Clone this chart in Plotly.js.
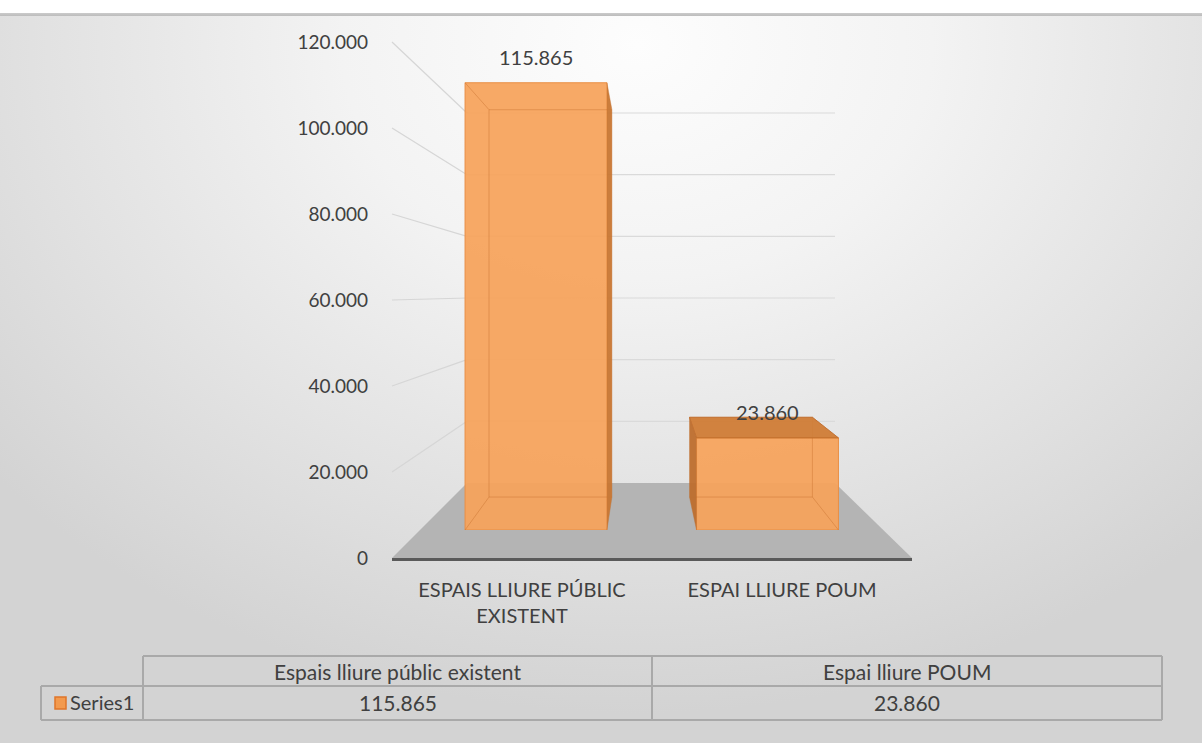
<!DOCTYPE html>
<html><head><meta charset="utf-8">
<script src="https://cdn.plot.ly/plotly-3.0.1.min.js"></script>
<style>
html,body{margin:0;padding:0;background:#fff;}
#wrap{position:relative;width:1202px;height:743px;overflow:hidden;
background:
 linear-gradient(to bottom,#ffffff 0px,#ffffff 13px,#cbcbcb 13px,#bcbcbc 16px,rgba(0,0,0,0) 16px),
 radial-gradient(ellipse 70% 90% at 53% 6%, #fdfdfd 0%, #f3f3f3 35%, #e2e2e2 70%, #d3d3d3 100%);}
#chart{width:1202px;height:743px;}
</style></head>
<body><div id="wrap"><div id="chart"></div></div>
<script>
// ---------- data ----------
const categories = ['ESPAIS LLIURE PÚBLIC<br>EXISTENT', 'ESPAI LLIURE POUM'];
const tableHeaders = ['Espais lliure públic existent', 'Espai lliure POUM'];
const seriesName = 'Series1';
const values = [115865, 23860];
const tickValues = [0, 20000, 40000, 60000, 80000, 100000, 120000];
const yMax = 120000;

// ---------- geometry / style ----------
const W = 1202, H = 743;
const px = p => p / W, py = p => 1 - p / H;
const fmt = v => String(v).replace(/\B(?=(\d{3})+(?!\d))/g, '.');
const FONT = 'Lato, "Open Sans", sans-serif';
const TXT = '#404040';

const labelAxis = {bottom: 558, top: 42, x: 392};
const backWall = {bottom: 483, top: 113, left: 467, right: 835};
const floorFront = {left: 392, right: 912, y: 558};
const barPlane = {bottom: 530, top: 66.8, left: 420.25, right: 883.25};
const barWidth = 0.613;
const vp = {x: 644, y: 284}, depthScale = 0.866;

const unitPx = (barPlane.right - barPlane.left) / 2;
const vpX = (vp.x - barPlane.left) / unitPx - 0.5;
const vpV = (barPlane.bottom - vp.y) / (barPlane.bottom - barPlane.top) * yMax;
const back = (x, y) => [vpX + depthScale * (x - vpX), vpV + depthScale * (y - vpV)];

const shapes = [];
// floor
shapes.push({type: 'path', xref: 'paper', yref: 'paper', layer: 'below',
  path: `M${px(floorFront.left)},${py(floorFront.y)} L${px(floorFront.right)},${py(floorFront.y)} L${px(backWall.right)},${py(backWall.bottom)} L${px(backWall.left)},${py(backWall.bottom)} Z`,
  fillcolor: '#b4b4b4', line: {width: 0}});
// back wall gridlines and side wall lines (from tick values)
const labY = v => py(labelAxis.bottom) + v / yMax * (py(labelAxis.top) - py(labelAxis.bottom));
const wallY = v => py(backWall.bottom) + v / yMax * (py(backWall.top) - py(backWall.bottom));
tickValues.forEach(v => {
  if (v === 0) return;
  shapes.push({type: 'line', xref: 'paper', yref: 'paper', layer: 'below',
    x0: px(backWall.left), x1: px(backWall.right), y0: wallY(v), y1: wallY(v),
    line: {color: '#dadada', width: 1.2}});
  shapes.push({type: 'line', xref: 'paper', yref: 'paper', layer: 'below',
    x0: px(labelAxis.x), x1: px(backWall.left), y0: labY(v), y1: wallY(v),
    line: {color: '#d6d6d6', width: 1.2}});
});

// 3D faces of the bars, derived from the values
values.forEach((v, i) => {
  const hw = barWidth / 2, xl = i - hw, xr = i + hw;
  const bTL = back(xl, v), bTR = back(xr, v), bBL = back(xl, 0), bBR = back(xr, 0);
  const edge = {color: 'rgba(190,100,35,0.35)', width: 1};
  shapes.push({type: 'path', xref: 'x', yref: 'y2', layer: 'above',
    path: `M${bBL} L${bTL} L${bTR} L${bBR} Z`, line: edge});
  shapes.push({type: 'path', xref: 'x', yref: 'y2', layer: 'above',
    path: `M${xl},${v} L${bTL} M${xr},${v} L${bTR} M${xl},0 L${bBL} M${xr},0 L${bBR}`, line: edge});
  if (v < vpV) {
    shapes.push({type: 'path', xref: 'x', yref: 'y2', layer: 'above',
      path: `M${xl},${v} L${bTL} L${bTR} L${xr},${v} Z`,
      fillcolor: 'rgba(208,124,54,0.95)', line: {color: 'rgba(190,105,40,0.8)', width: 1}});
  }
  if (xr < vpX) {
    shapes.push({type: 'path', xref: 'x', yref: 'y2', layer: 'above',
      path: `M${xr},${v} L${bTR} L${bBR} L${xr},0 Z`,
      fillcolor: 'rgba(200,118,50,0.95)', line: {width: 0}});
  } else if (xl > vpX) {
    shapes.push({type: 'path', xref: 'x', yref: 'y2', layer: 'above',
      path: `M${xl},${v} L${bTL} L${bBL} L${xl},0 Z`,
      fillcolor: 'rgba(190,110,45,0.95)', line: {width: 0}});
  }
});

// data table
const tbl = {top: 656, mid: 686, bot: 720, cols: [41, 143, 652, 1162]};
const tline = (x0, y0, x1, y1) => shapes.push({type: 'line', xref: 'paper', yref: 'paper',
  x0: px(x0), y0: py(y0), x1: px(x1), y1: py(y1), line: {color: '#a9a9a9', width: 2}});
tline(tbl.cols[1], tbl.top, tbl.cols[3], tbl.top);
tline(tbl.cols[0], tbl.mid, tbl.cols[3], tbl.mid);
tline(tbl.cols[0], tbl.bot, tbl.cols[3], tbl.bot);
tline(tbl.cols[0], tbl.mid, tbl.cols[0], tbl.bot);
tbl.cols.slice(1).forEach(c => tline(c, tbl.top, c, tbl.bot));
shapes.push({type: 'rect', xref: 'paper', yref: 'paper', x0: px(55), x1: px(66), y0: py(709), y1: py(697),
  fillcolor: '#f39a4e', line: {color: '#e0762a', width: 1.5}});

const annotations = [];
const ann = (x, y, text, size, extra) => Object.assign({xref: 'paper', yref: 'paper', x: x, y: y,
  xanchor: 'center', yanchor: 'middle', text: text, showarrow: false,
  font: {family: FONT, size: size, color: TXT}}, extra || {});
values.forEach((v, i) => annotations.push({x: i, y: v, xref: 'x', yref: 'y2', yshift: 26,
  xanchor: 'center', yanchor: 'middle',
  text: fmt(v), showarrow: false, font: {family: FONT, size: 20, color: TXT}}));
tableHeaders.forEach((t, i) => annotations.push(ann(
  px((tbl.cols[i + 1] + tbl.cols[i + 2]) / 2), py(671), t, 21)));
values.forEach((v, i) => annotations.push(ann(
  px((tbl.cols[i + 1] + tbl.cols[i + 2]) / 2), py(702), fmt(v), 21)));
annotations.push(ann(px(68), py(702), seriesName, 20, {xanchor: 'left'}));

const traces = [
  {type: 'bar', x: values.map((v, i) => i), y: values, xaxis: 'x', yaxis: 'y2', width: barWidth,
   marker: {color: 'rgba(246,162,90,0.93)', line: {color: '#e98f45', width: 1}},
   hoverinfo: 'skip', showlegend: false},
  {type: 'scatter', mode: 'markers', x: categories, y: categories.map(() => null),
   xaxis: 'x2', yaxis: 'y', hoverinfo: 'skip', showlegend: false}
];

const layout = {
  width: W, height: H, margin: {l: 0, r: 0, t: 0, b: 0},
  paper_bgcolor: 'rgba(0,0,0,0)', plot_bgcolor: 'rgba(0,0,0,0)',
  separators: ',.', hovermode: false, showlegend: false,
  font: {family: FONT, color: TXT},
  xaxis: {domain: [px(barPlane.left), px(barPlane.right)], range: [-0.5, 1.5], anchor: 'y2',
    visible: false, fixedrange: true},
  yaxis2: {domain: [py(barPlane.bottom), py(barPlane.top)], range: [0, yMax], anchor: 'x',
    visible: false, fixedrange: true},
  xaxis2: {domain: [px(floorFront.left), px(floorFront.right)], range: [-0.5, 1.5], type: 'category',
    anchor: 'y', showgrid: false, zeroline: false, showline: true, linecolor: '#5a5a5a', linewidth: 2.5,
    ticks: '', ticklabelstandoff: 12, tickfont: {family: FONT, size: 20, color: TXT}, fixedrange: true},
  yaxis: {domain: [py(labelAxis.bottom), py(labelAxis.top)], range: [0, yMax], anchor: 'free',
    position: px(labelAxis.x - 24), tickvals: tickValues, tickformat: ',d', ticks: '',
    showgrid: false, zeroline: false, showline: false,
    tickfont: {family: FONT, size: 19, color: TXT}, fixedrange: true},
  shapes: shapes, annotations: annotations
};

Plotly.newPlot('chart', traces, layout, {staticPlot: true, displayModeBar: false});
</script></body></html>
